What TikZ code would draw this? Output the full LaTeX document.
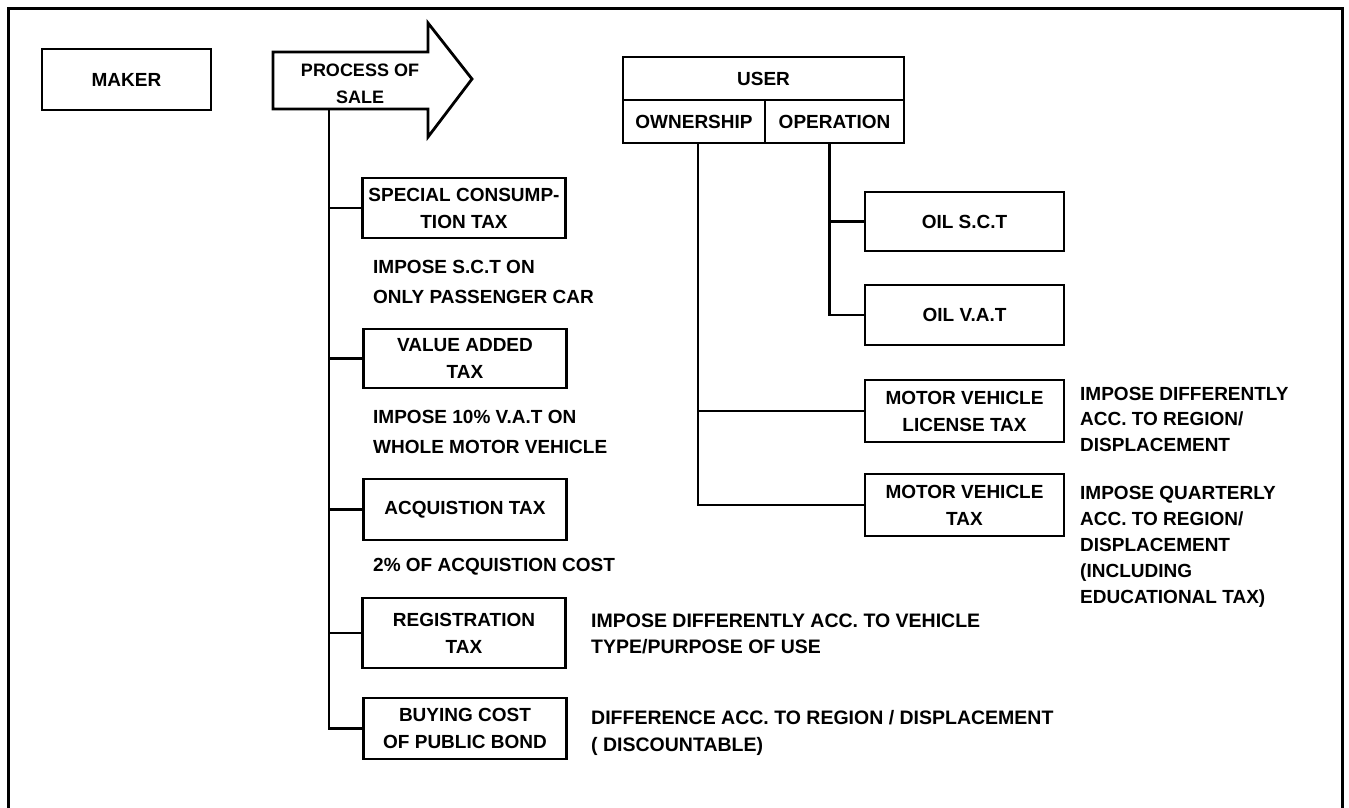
\documentclass[tikz,border=0pt]{standalone}
\usepackage{fontspec}
\setmainfont{Liberation Sans}
\begin{document}
\begin{tikzpicture}[x=1pt,y=-1pt,
  txt/.style={font=\bfseries\fontsize{19}{27}\selectfont},
  box/.style={draw,line width=2.8pt,txt,align=center,inner sep=1pt},
  lbox/.style={box,minimum width=203pt},
  rbox/.style={box,minimum width=199pt},
  note/.style={txt,anchor=west,align=left,inner sep=0pt},
  conn/.style={line width=2.6pt}]
\useasboundingbox (0,0) rectangle (1349,808);
% frame
\draw[line width=3pt] (8,808) -- (8,9) -- (1342,9) -- (1342,808);
% maker
\node[box,minimum width=169pt,minimum height=61pt] (maker) at (126.5,79.5) {MAKER};
% process of sale arrow
\draw[line width=2.8pt,line join=miter] (273,52) -- (428,52) -- (428,23) -- (472,79) -- (428,137) -- (428,109) -- (273,109) -- cycle;
\node[txt,align=center,font=\bfseries\fontsize{18}{27}\selectfont] (sale) at (360,84) {PROCESS OF\\SALE};
\coordinate (saleb) at (329,109);
% left boxes
\node[lbox,minimum height=60pt] (sct) at (464,208) {SPECIAL CONSUMP-\\TION TAX};
\node[lbox,minimum height=59pt] (vat) at (465,358.5) {VALUE ADDED\\TAX};
\node[lbox,minimum height=61pt] (acq) at (465,509.5) {ACQUISTION TAX};
\node[lbox,minimum height=70pt] (reg) at (464,633) {REGISTRATION\\TAX};
\node[lbox,minimum height=61pt] (buy) at (465,728.5) {BUYING COST\\OF PUBLIC BOND};
% trunk
\draw[conn] (saleb) |- (buy.west);
\draw[conn] (saleb |- sct.west) -- (sct.west);
\draw[conn] (saleb |- vat.west) -- (vat.west);
\draw[conn] (saleb |- acq.west) -- (acq.west);
\draw[conn] (saleb |- reg.west) -- (reg.west);
% left notes
\node[note,font=\bfseries\fontsize{19}{30}\selectfont] (n1) at (373,282) {IMPOSE S.C.T ON\\ONLY PASSENGER CAR};
\node[note,font=\bfseries\fontsize{19}{30}\selectfont] (n2) at (373,432) {IMPOSE 10\% V.A.T ON\\WHOLE MOTOR VEHICLE};
\node[note] (n3) at (373,567) {2\% OF ACQUISTION COST};
\node[note,font=\bfseries\fontsize{19.5}{26}\selectfont] (n4) at (591,634) {IMPOSE DIFFERENTLY ACC. TO VEHICLE\\TYPE/PURPOSE OF USE};
\node[note,font=\bfseries\fontsize{19.5}{27}\selectfont] (n5) at (591,733) {DIFFERENCE ACC. TO REGION / DISPLACEMENT\\( DISCOUNTABLE)};
% user box
\node[box,minimum width=281pt,minimum height=43pt] (user) at (763.5,78.5) {USER};
\node[box,minimum width=142pt,minimum height=43pt] (own) at (694,121.5) {OWNERSHIP};
\node[box,minimum width=139pt,minimum height=43pt] (oper) at (834.5,121.5) {OPERATION};
% right boxes
\node[rbox,minimum height=59pt] (oilsct) at (964.5,221.5) {OIL S.C.T};
\node[rbox,minimum height=60pt] (oilvat) at (964.5,315) {OIL V.A.T};
\node[rbox,minimum height=62pt] (mvl) at (964.5,411) {MOTOR VEHICLE\\LICENSE TAX};
\node[rbox,minimum height=62pt] (mvt) at (964.5,505) {MOTOR VEHICLE\\TAX};
\coordinate (ownx) at ([xshift=4pt]own.south);
\coordinate (operx) at ([xshift=-5pt]oper.south);
\draw[conn] (operx) |- (oilvat.west);
\draw[conn] (operx |- oilsct.west) -- (oilsct.west);
\draw[conn] (ownx) |- (mvt.west);
\draw[conn] (ownx |- mvl.west) -- (mvl.west);
% right notes
\node[note,font=\bfseries\fontsize{19}{25.5}\selectfont] (n6) at (1080,419) {IMPOSE DIFFERENTLY\\ACC. TO REGION/\\DISPLACEMENT};
\node[note,font=\bfseries\fontsize{19}{26}\selectfont] (n7) at (1080,547) {IMPOSE QUARTERLY\\ACC. TO REGION/\\DISPLACEMENT\\(INCLUDING\\EDUCATIONAL TAX)};
\end{tikzpicture}
\end{document}
